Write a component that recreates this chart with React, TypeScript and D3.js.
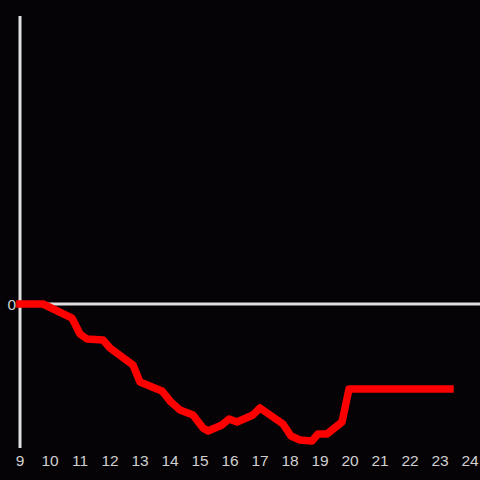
import React from "react";
import * as d3 from "d3";

const hours = [9, 9.767, 10.733, 11.0, 11.233, 11.767, 12.0, 12.767, 13.0, 13.733, 14.033, 14.333, 14.767, 15.1, 15.267, 15.733, 15.967, 16.233, 16.767, 17.0, 17.767, 18.033, 18.333, 18.733, 18.933, 19.233, 19.733, 19.967, 23.333];
const values = [0, 0, -0.146, -0.313, -0.365, -0.375, -0.458, -0.635, -0.813, -0.906, -1.021, -1.104, -1.156, -1.292, -1.323, -1.26, -1.198, -1.229, -1.156, -1.083, -1.25, -1.375, -1.417, -1.427, -1.354, -1.354, -1.229, -0.885, -0.885];
const xTicks = [9, 10, 11, 12, 13, 14, 15, 16, 17, 18, 19, 20, 21, 22, 23, 24];
const yTicks = [0];

export default function App() {
  const W = 480, H = 480;
  const x = d3.scaleLinear().domain([9, 24]).range([20, 470]);
  const y = d3.scaleLinear().domain([-1.5, 3]).range([448, 16]);
  const pts: [number, number][] = hours.map((h, i) => [h, values[i]]);
  const line = d3.line<[number, number]>().x(d => x(d[0])).y(d => y(d[1]));
  const axisColor = "#e0e0e0";
  return (
    <svg width={W} height={H} style={{ position: "fixed", left: 0, top: 0, background: "#050306" }}>
      <rect x={0} y={0} width={W} height={H} fill="#050306" />
      <line x1={x(9)} x2={x(9)} y1={y(3)} y2={y(-1.5)} stroke={axisColor} strokeWidth={3} />
      <line x1={x(9)} x2={W} y1={y(0)} y2={y(0)} stroke={axisColor} strokeWidth={3} />
      {yTicks.map(t => (
        <text key={t} x={16} y={y(t) + 6} textAnchor="end" fill="#d0d0d0" fontSize={15.5} fontFamily="Liberation Sans, Arial, sans-serif">{t}</text>
      ))}
      {xTicks.map(t => (
        <text key={t} x={x(t)} y={466} textAnchor="middle" fill="#d0d0d0" fontSize={15.5} fontFamily="Liberation Sans, Arial, sans-serif">{t}</text>
      ))}
      <path d={line(pts) || ""} fill="none" stroke="#ff0000" strokeWidth={7.5} strokeLinejoin="round" strokeLinecap="square" />
    </svg>
  );
}
